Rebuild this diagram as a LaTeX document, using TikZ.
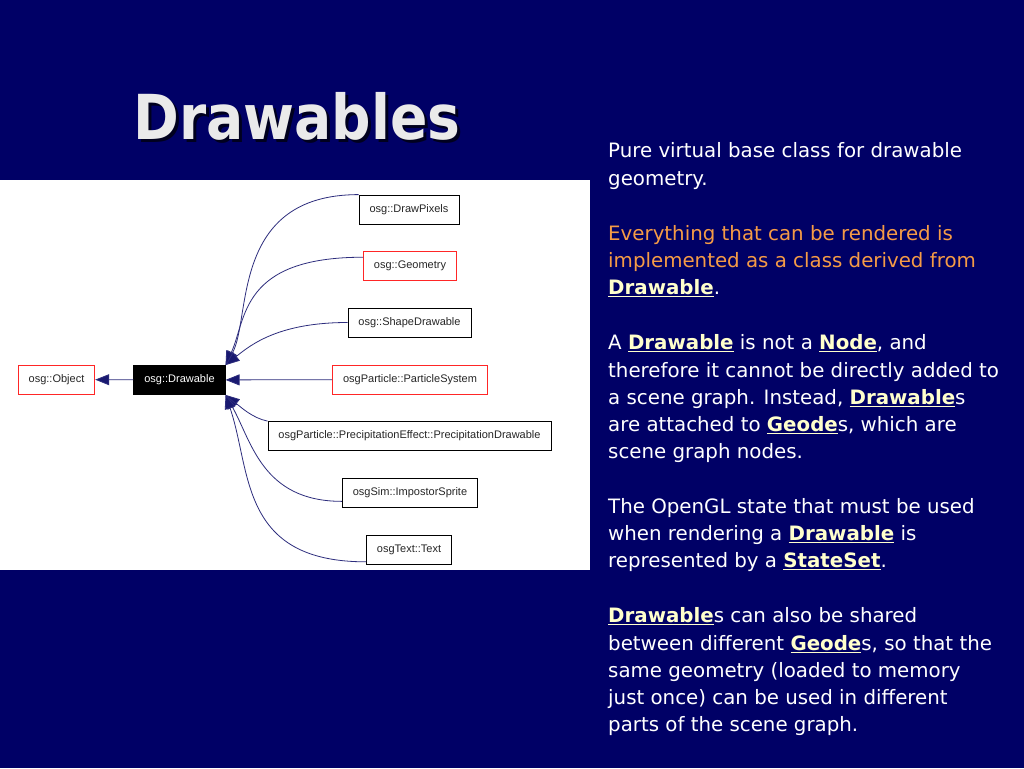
\documentclass[tikz,border=0pt]{standalone}
\usepackage{fontspec}
\setmainfont{DejaVu Sans}
\newfontfamily\diagfont{Liberation Sans}
\newfontfamily\titlefont[FakeStretch=0.89]{DejaVu Sans}
\usetikzlibrary{arrows.meta}
\definecolor{slidebg}{RGB}{0,0,102}
\definecolor{edgeblue}{RGB}{45,45,125}
\definecolor{tipblue}{RGB}{25,25,112}
\definecolor{hiorange}{RGB}{245,155,70}
\definecolor{hiyellow}{RGB}{255,255,204}
\definecolor{titlegray}{RGB}{234,234,234}
\definecolor{titleshade}{RGB}{0,0,30}
\newcommand{\keyw}[1]{\textcolor{hiyellow}{\underline{\textbf{#1}}}}
\newcommand{\shadowed}[1]{\rlap{\kern3pt\raisebox{-3pt}{\textcolor{titleshade}{#1}}}\textcolor{titlegray}{#1}}
\tikzstyle{cls}=[shape=rectangle,
                draw=black,
                fill=white,
                line width=0.8pt,
                minimum height=29pt,
                inner xsep=10.5pt,
                text=black!85,
                font=\diagfont\fontsize{11}{13}\selectfont]
\tikzstyle{clsred}=[cls,
                draw=red!85]
\tikzstyle{cur}=[cls,
                fill=black,
                text=white]
\tikzstyle{inh}=[draw=edgeblue,
                line width=0.8pt,
                -{Triangle[length=14pt,width=11pt,fill=tipblue]}]
\tikzstyle{para}=[anchor=north west,
                inner sep=0pt,
                align=left,
                text=white,
                font=\fontsize{19.8}{27.3}\selectfont]
\tikzstyle{ttl}=[anchor=base west,
                inner sep=0pt,
                font=\titlefont\bfseries\fontsize{62}{70}\selectfont]

\begin{document}
\begin{tikzpicture}[x=1pt,y=-1pt]

\useasboundingbox (0,0) rectangle (1024,768);
\fill[slidebg] (0,0) rectangle (1024,768);
\fill[white] (0,180) rectangle (590,570);

% title
\node[ttl] (ttl) at (133,139) {\shadowed{Drawables}};

% base classes
\node[clsred] (obj) at (56.5,379.5) {osg::Object};
\node[cur] (dr) at (179.5,380) {osg::Drawable};

% derived classes
\node[cls] (pix) at (409,209.5) {osg::DrawPixels};
\node[clsred] (geo) at (410,265.5) {osg::Geometry};
\node[cls] (shp) at (409.5,322.5) {osg::ShapeDrawable};
\node[clsred] (ps) at (410,379.5) {osgParticle::ParticleSystem};
\node[cls] (pd) at (409.5,436) {osgParticle::PrecipitationEffect::PrecipitationDrawable};
\node[cls] (imp) at (410,493) {osgSim::ImpostorSprite};
\node[cls] (txt) at (409,549.5) {osgText::Text};

% paths
\draw[inh] (dr) -- (obj);
\draw[inh] (pix.north west) .. controls +(-129,0) and +(26,-46) .. (dr.north east);
\draw[inh] (geo.170) .. controls +(-123,0) and +(21,-46) .. (dr.north east);
\draw[inh] (shp.west) .. controls +(-68,0) and +(26,-21) .. (dr.north east);
\draw[inh] (ps) -- (dr);
\draw[inh] (pd.north west) .. controls +(-15,-3) and +(15,12) .. (dr.south east);
\draw[inh] (imp.187) .. controls +(-80,0) and +(26,46) .. (dr.south east);
\draw[inh] (txt.196) .. controls +(-127,0) and +(26,76) .. (dr.south east);

% text
\node[para] (p1) at (608,142.5) {Pure virtual base class for drawable\\geometry.};
\node[para,text=hiorange] (p2) at (608,225) {Everything that can be rendered is\\implemented as a class derived from\\\keyw{Drawable}\textcolor{white}{.}};
\node[para] (p3) at (608,334.5) {A \keyw{Drawable} is not a \keyw{Node}, and\\therefore it cannot be directly added to\\a scene graph. Instead, \keyw{Drawable}s\\are attached to \keyw{Geode}s, which are\\scene graph nodes.};
\node[para] (p4) at (608,498) {The OpenGL state that must be used\\when rendering a \keyw{Drawable} is\\represented by a \keyw{StateSet}.};
\node[para] (p5) at (608,607.5) {\keyw{Drawable}s can also be shared\\between different \keyw{Geode}s, so that the\\same geometry (loaded to memory\\just once) can be used in different\\parts of the scene graph.};

\end{tikzpicture}
\end{document}
